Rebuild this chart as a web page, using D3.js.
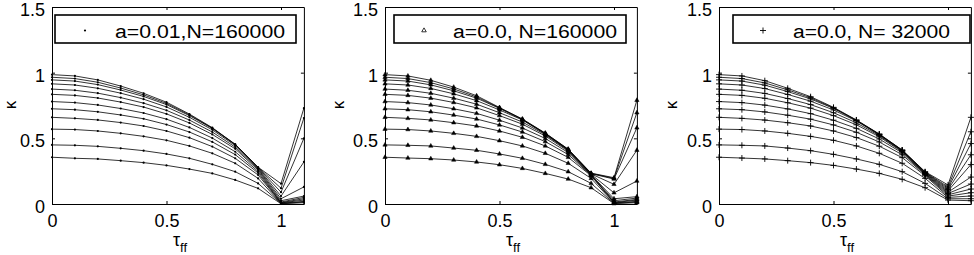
<!DOCTYPE html>
<html><head><meta charset="utf-8">
<script src="https://cdn.jsdelivr.net/npm/d3@7"></script>
<style>
html,body{margin:0;padding:0;background:#fff;}
text{font-family:"Liberation Sans",Arial,Helvetica,sans-serif;fill:#000;}
</style></head>
<body><svg id="c" width="974" height="255"></svg>
<script>
// ---- data ----
const tau = [0, 0.1, 0.2, 0.3, 0.4, 0.5, 0.6, 0.7, 0.8, 0.9, 1.0, 1.1];
const xTicks = [0, 0.5, 1];
const yTicks = [0, 0.5, 1, 1.5];
const legendLabels = ["a=0.01,N=160000", "a=0.0, N=160000", "a=0.0, N= 32000"];

const kappaA001N160k = [
  [0.985, 0.975, 0.945, 0.898, 0.843, 0.775, 0.685, 0.581, 0.455, 0.280, 0.155, 0.730],
  [0.965, 0.955, 0.927, 0.883, 0.831, 0.766, 0.679, 0.578, 0.454, 0.279, 0.120, 0.655],
  [0.945, 0.936, 0.909, 0.868, 0.819, 0.757, 0.673, 0.575, 0.452, 0.276, 0.090, 0.500],
  [0.915, 0.906, 0.881, 0.844, 0.798, 0.739, 0.660, 0.565, 0.445, 0.272, 0.060, 0.320],
  [0.875, 0.866, 0.844, 0.810, 0.768, 0.713, 0.639, 0.548, 0.433, 0.266, 0.040, 0.130],
  [0.835, 0.827, 0.807, 0.776, 0.738, 0.686, 0.617, 0.530, 0.420, 0.259, 0.025, 0.060],
  [0.780, 0.772, 0.754, 0.727, 0.693, 0.646, 0.583, 0.502, 0.398, 0.248, 0.015, 0.050],
  [0.725, 0.718, 0.702, 0.678, 0.649, 0.605, 0.548, 0.473, 0.376, 0.236, 0.010, 0.040],
  [0.660, 0.652, 0.640, 0.620, 0.594, 0.556, 0.505, 0.437, 0.348, 0.221, 0.008, 0.030],
  [0.570, 0.567, 0.556, 0.538, 0.515, 0.485, 0.442, 0.386, 0.310, 0.195, 0.005, 0.020],
  [0.450, 0.447, 0.439, 0.424, 0.406, 0.381, 0.348, 0.302, 0.246, 0.157, 0.004, 0.015],
  [0.356, 0.348, 0.343, 0.330, 0.315, 0.294, 0.266, 0.233, 0.183, 0.119, 0.002, 0.010]
];

const kappaA0N160k = [
  [0.985, 0.975, 0.942, 0.890, 0.824, 0.735, 0.647, 0.540, 0.418, 0.235, 0.200, 0.790],
  [0.965, 0.955, 0.924, 0.876, 0.815, 0.731, 0.645, 0.538, 0.416, 0.233, 0.195, 0.695],
  [0.945, 0.936, 0.907, 0.862, 0.806, 0.728, 0.643, 0.535, 0.414, 0.231, 0.190, 0.580],
  [0.915, 0.906, 0.880, 0.839, 0.787, 0.716, 0.640, 0.532, 0.412, 0.229, 0.150, 0.410],
  [0.875, 0.866, 0.843, 0.806, 0.760, 0.695, 0.624, 0.527, 0.408, 0.226, 0.085, 0.175],
  [0.835, 0.827, 0.806, 0.773, 0.732, 0.673, 0.608, 0.518, 0.402, 0.223, 0.040, 0.056],
  [0.780, 0.772, 0.754, 0.725, 0.690, 0.638, 0.579, 0.499, 0.392, 0.220, 0.025, 0.045],
  [0.725, 0.718, 0.702, 0.677, 0.647, 0.602, 0.548, 0.475, 0.377, 0.218, 0.015, 0.035],
  [0.660, 0.652, 0.640, 0.619, 0.594, 0.556, 0.508, 0.442, 0.355, 0.215, 0.010, 0.030],
  [0.570, 0.567, 0.556, 0.538, 0.515, 0.482, 0.442, 0.386, 0.310, 0.195, 0.008, 0.020],
  [0.450, 0.447, 0.442, 0.426, 0.409, 0.381, 0.348, 0.302, 0.246, 0.157, 0.005, 0.015],
  [0.356, 0.350, 0.345, 0.335, 0.320, 0.299, 0.271, 0.233, 0.190, 0.124, 0.003, 0.010]
];

const kappaA0N32k = [
  [0.985, 0.975, 0.939, 0.881, 0.817, 0.736, 0.640, 0.533, 0.411, 0.246, 0.145, 0.660],
  [0.965, 0.955, 0.922, 0.869, 0.809, 0.732, 0.638, 0.531, 0.410, 0.243, 0.130, 0.550],
  [0.945, 0.936, 0.905, 0.856, 0.800, 0.728, 0.636, 0.529, 0.408, 0.240, 0.120, 0.460],
  [0.915, 0.906, 0.879, 0.834, 0.783, 0.716, 0.632, 0.526, 0.406, 0.237, 0.110, 0.375],
  [0.875, 0.866, 0.842, 0.803, 0.757, 0.695, 0.618, 0.520, 0.402, 0.233, 0.100, 0.300],
  [0.835, 0.827, 0.805, 0.771, 0.730, 0.673, 0.603, 0.512, 0.397, 0.230, 0.090, 0.205],
  [0.780, 0.772, 0.753, 0.724, 0.688, 0.638, 0.576, 0.495, 0.389, 0.226, 0.080, 0.152],
  [0.725, 0.718, 0.701, 0.676, 0.646, 0.602, 0.546, 0.472, 0.375, 0.222, 0.070, 0.114],
  [0.660, 0.652, 0.639, 0.619, 0.594, 0.556, 0.506, 0.440, 0.353, 0.215, 0.060, 0.086],
  [0.570, 0.567, 0.556, 0.538, 0.515, 0.485, 0.442, 0.386, 0.310, 0.195, 0.050, 0.061],
  [0.450, 0.447, 0.442, 0.426, 0.406, 0.378, 0.343, 0.302, 0.246, 0.157, 0.040, 0.040],
  [0.356, 0.350, 0.343, 0.330, 0.315, 0.294, 0.266, 0.233, 0.188, 0.124, 0.030, 0.025]
];

const panelsData = [kappaA001N160k, kappaA0N160k, kappaA0N32k];
const markerTypes = ["dot", "triangle", "plus"];

// ---- layout ----
const panelLeft = [52, 385, 719];
const plotTop = 7, plotH = 197, plotW = 251.9;
const legendBox = [
  {x: 55, w: 241, mx: 85, tx: 115, tw: 170},
  {x: 394, w: 232, mx: 424, tx: 453, tw: 164},
  {x: 733, w: 237, mx: 763, tx: 793, tw: 157}
];
const yLabelOffset = [-36, -41, -42];

const svg = d3.select("#c");
svg.append("rect").attr("width", 974).attr("height", 255).attr("fill", "#fff");

const x = d3.scaleLinear().domain([0, 1.1]).range([0, plotW]);
const y = d3.scaleLinear().domain([0, 1.5]).range([plotH, 0]);

function drawMarker(sel, type, inLegend) {
  if (type === "dot") {
    sel.append("circle").attr("r", 1.1).attr("fill", "#000");
  } else if (type === "triangle") {
    if (inLegend) {
      sel.append("path").attr("d", d3.symbol(d3.symbolTriangle, 9)())
        .attr("fill", "none").attr("stroke", "#000").attr("stroke-width", 0.8);
    } else {
      sel.append("path").attr("d", d3.symbol(d3.symbolTriangle, 8)())
        .attr("fill", "#000").attr("stroke", "#000").attr("stroke-width", 0.5);
    }
  } else {
    sel.append("path").attr("d", "M-3,0H3M0,-3V3")
      .attr("fill", "none").attr("stroke", "#000").attr("stroke-width", 0.9);
  }
}

panelsData.forEach((curves, p) => {
  const g = svg.append("g").attr("transform", `translate(${panelLeft[p]},${plotTop})`);

  const fontSize = 18;
  const ax = g.append("g").attr("transform", `translate(0,${plotH})`)
    .call(d3.axisBottom(x).tickValues(xTicks).tickFormat(d3.format("")).tickSizeInner(-3).tickSizeOuter(0).tickPadding(10));
  const ay = g.append("g")
    .call(d3.axisLeft(y).tickValues(yTicks).tickFormat(d3.format("")).tickSizeInner(-3).tickSizeOuter(0).tickPadding(7));
  const at = g.append("g")
    .call(d3.axisTop(x).tickValues(xTicks).tickFormat("").tickSizeInner(-3).tickSizeOuter(0));
  const ar = g.append("g").attr("transform", `translate(${plotW},0)`)
    .call(d3.axisRight(y).tickValues(yTicks).tickFormat("").tickSizeInner(-3).tickSizeOuter(0));
  [ax, ay, at, ar].forEach(a => {
    a.selectAll("path.domain").attr("stroke", "#000").attr("stroke-width", 1);
    a.selectAll(".tick line").attr("stroke", "#000").attr("stroke-width", 1);
    a.selectAll("text").attr("font-size", fontSize).attr("font-family", '"Liberation Sans",Arial,sans-serif').attr("fill", "#000");
  });
  ay.selectAll("text").attr("dy", "0.48em");

  const line = d3.line().x((d, i) => x(tau[i])).y(d => y(d));
  const marks = g.append("g");
  curves.forEach(c => {
    marks.append("path").attr("d", line(c)).attr("fill", "none")
      .attr("stroke", "#000").attr("stroke-width", 0.8);
  });
  curves.forEach(c => {
    c.forEach((v, i) => {
      const m = marks.append("g").attr("transform", `translate(${x(tau[i])},${y(v)})`);
      drawMarker(m, markerTypes[p], false);
    });
  });

  // y label
  g.append("text").attr("transform", `translate(${yLabelOffset[p]},${98}) rotate(-90)`)
    .attr("text-anchor", "middle").attr("font-size", 17).text("κ");
  // x label
  const xl = g.append("text").attr("x", x(0.55) + 2).attr("y", 246 - plotTop)
    .attr("text-anchor", "middle").attr("font-size", 18).text("τ");
  xl.append("tspan").attr("dy", 6).attr("font-size", 13).text("ff");

  // legend
  const lb = legendBox[p];
  const lg = svg.append("g");
  lg.append("rect").attr("x", lb.x).attr("y", 15).attr("width", lb.w).attr("height", 28)
    .attr("fill", "#fff").attr("stroke", "#000").attr("stroke-width", 1.6);
  const lm = lg.append("g").attr("transform", `translate(${lb.mx},30.5)`);
  drawMarker(lm, markerTypes[p], true);
  lg.append("text").attr("x", lb.tx).attr("y", 37.5).attr("font-size", 18)
    .attr("textLength", lb.tw).attr("lengthAdjust", "spacingAndGlyphs")
    .text(legendLabels[p]);
});
</script></body></html>
